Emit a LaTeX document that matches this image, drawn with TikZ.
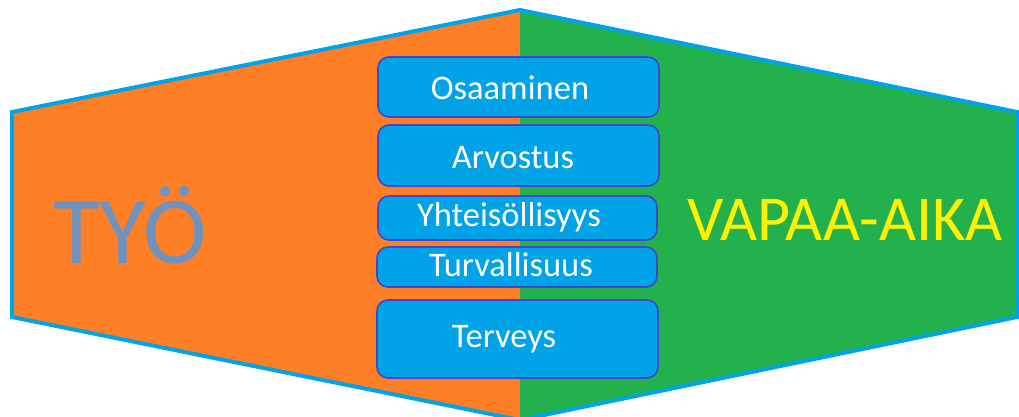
\documentclass[tikz,border=0pt]{standalone}
\usepackage{fontspec}
\setmainfont{Carlito}
\definecolor{borderblue}{HTML}{00A2E8}
\definecolor{orangefill}{HTML}{FF7F27}
\definecolor{greenfill}{HTML}{22B14C}
\definecolor{boxedge}{HTML}{3F48CC}
\definecolor{tyocol}{HTML}{7092BE}
\definecolor{vapaacol}{HTML}{FFF200}
\tikzset{
  valuebox/.style={draw=boxedge, line width=1.6pt, fill=borderblue, rounded corners=11pt, inner sep=0pt},
  valuetext/.style={text=white, font=\fontsize{34.5}{40}\selectfont, anchor=base, inner sep=0pt},
}
\begin{document}
\begin{tikzpicture}[x=1pt,y=-1pt]
\useasboundingbox (0,0) rectangle (1019,417);
\clip (0,0) rectangle (1019,417);
% hexagon halves
\fill[orangefill] (520,10) -- (12,112) -- (12,317) -- (520,420) -- cycle;
\fill[greenfill] (520,10) -- (1017,112) -- (1017,317) -- (520,420) -- cycle;
\draw[borderblue, line width=4pt, line join=miter] (520,10) -- (1017,112) -- (1017,317) -- (520,420) -- (12,317) -- (12,112) -- cycle;
% side labels
\node[text=tyocol, font=\fontsize{96}{104}\selectfont, anchor=base west, inner sep=0pt] (tyo) at (53,263) {TYÖ};
\node[text=vapaacol, font=\fontsize{64}{72}\selectfont, anchor=base west, inner sep=0pt] (vapaa) at (687,240) {VAPAA-AIKA};
% value boxes
\path[valuebox] (378,57) rectangle (659,117) node[midway] (b1) {};
\path[valuebox] (378,125) rectangle (659,186) node[midway] (b2) {};
\path[valuebox] (378,196) rectangle (657,240) node[midway] (b3) {};
\path[valuebox] (377,247) rectangle (657,287) node[midway] (b4) {};
\path[valuebox] (377,300) rectangle (658,378) node[midway] (b5) {};
\node[valuetext] (t1) at (510,100) {Osaaminen};
\node[valuetext] (t2) at (513,168) {Arvostus};
\node[valuetext] (t3) at (509,226) {Yhteisöllisyys};
\node[valuetext] (t4) at (511,276) {Turvallisuus};
\node[valuetext] (t5) at (504,347) {Terveys};
\end{tikzpicture}
\end{document}
